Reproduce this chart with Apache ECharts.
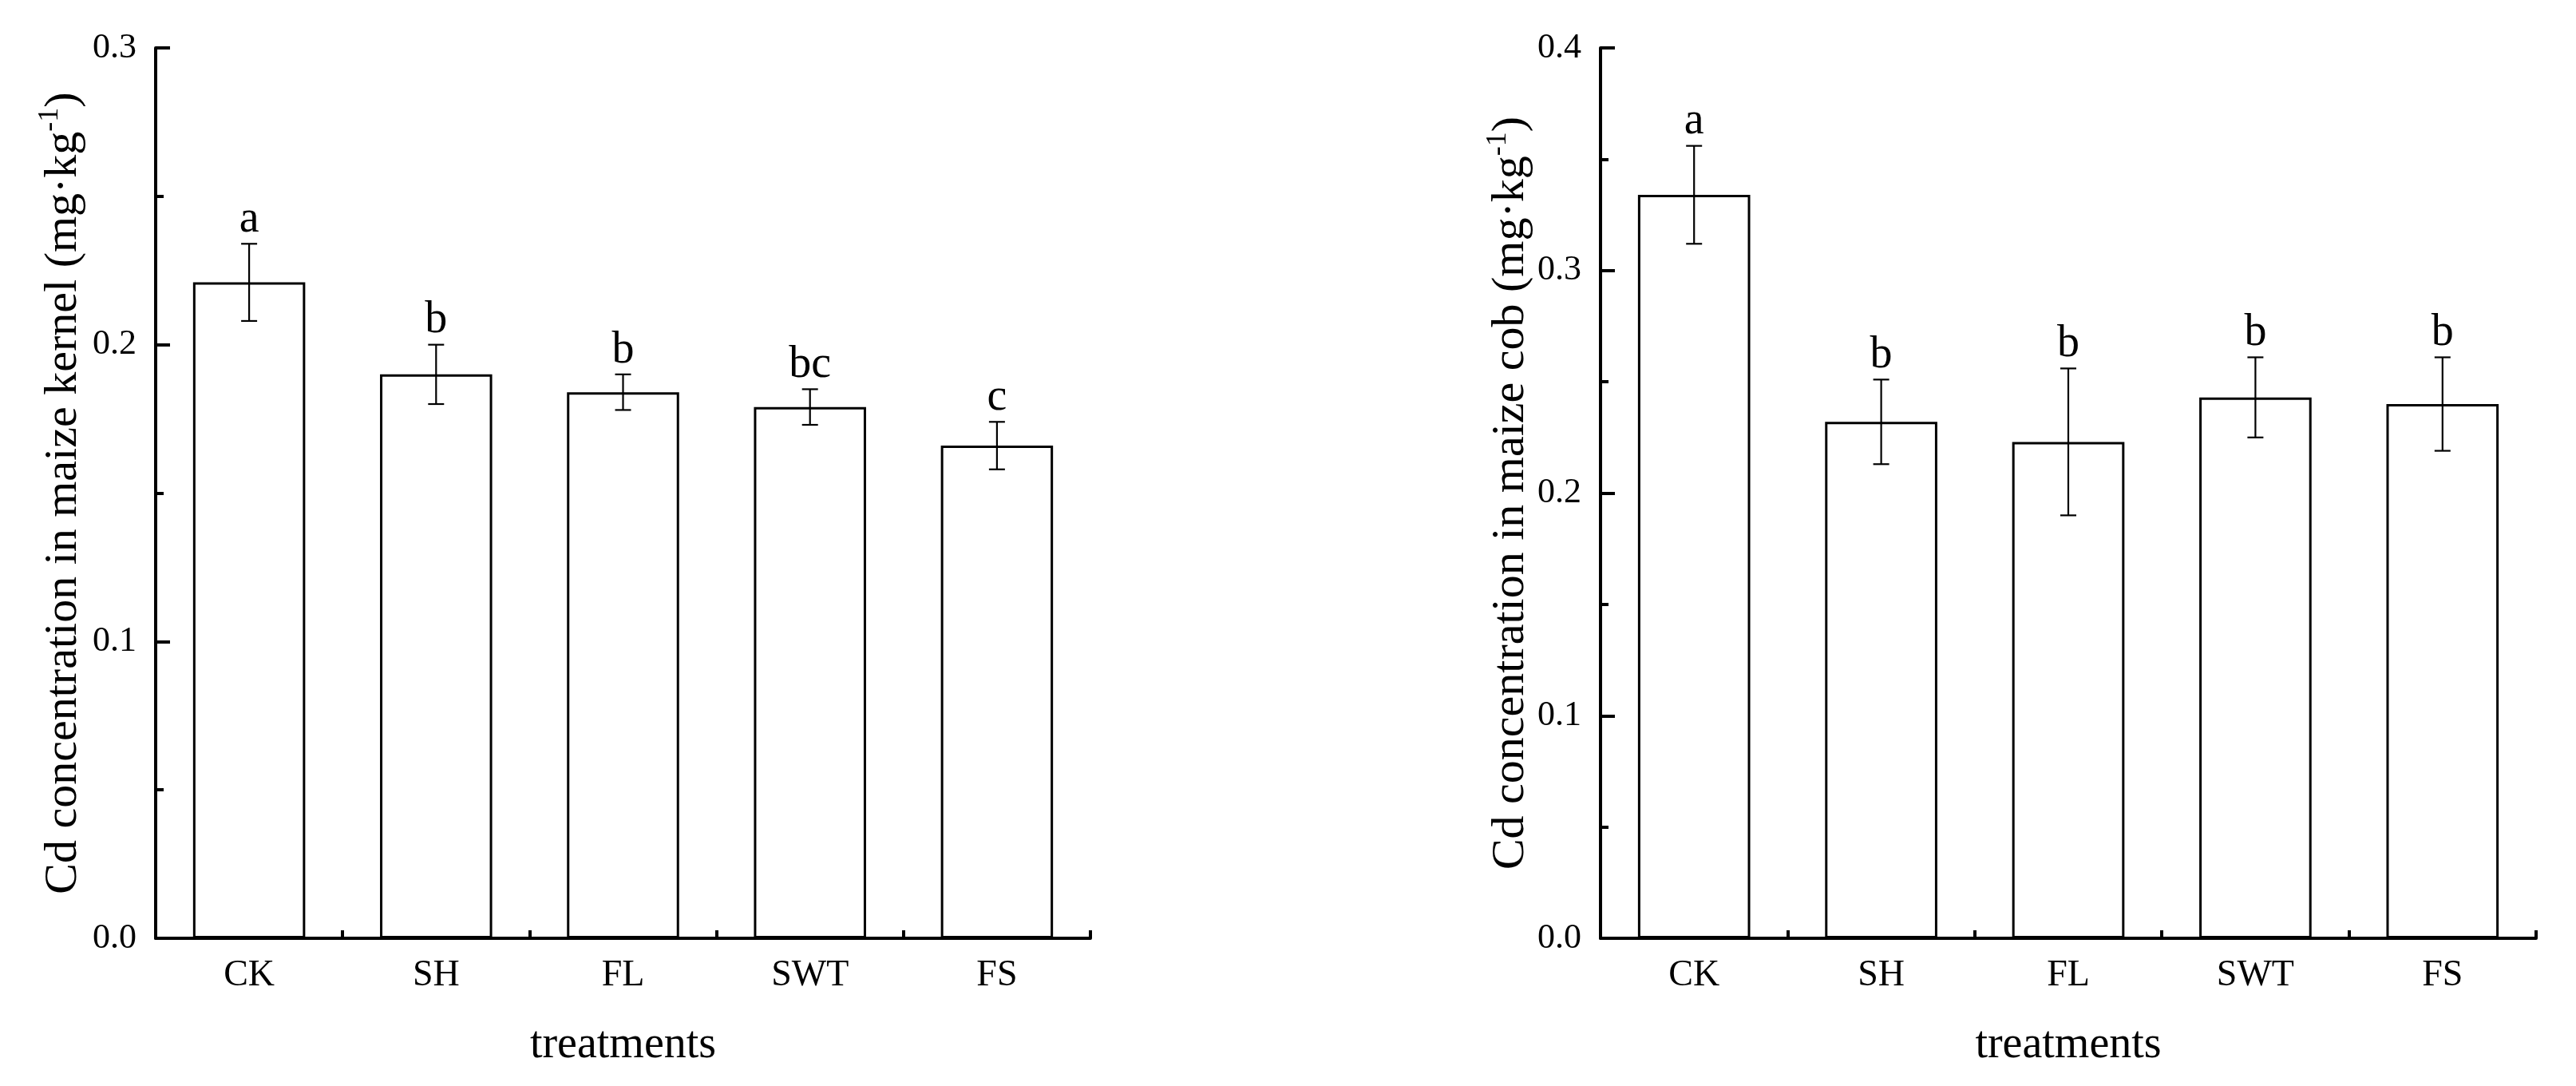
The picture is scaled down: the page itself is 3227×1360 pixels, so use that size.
<!DOCTYPE html>
<html>
<head>
<meta charset="utf-8">
<script src="https://cdn.jsdelivr.net/npm/echarts@6/dist/echarts.min.js"></script>
<style>
html,body{margin:0;padding:0;background:#fff;}
#chart{width:3227px;height:1360px;}
</style>
</head>
<body>
<div id="chart"></div>
<script>
// ---- data ----
const categories = ['CK', 'SH', 'FL', 'SWT', 'FS'];
const kernelMean = [0.221, 0.190, 0.184, 0.179, 0.166];
const kernelErr = [0.013, 0.010, 0.006, 0.006, 0.008];
const kernelLetters = ['a', 'b', 'b', 'bc', 'c'];
const cobMean = [0.334, 0.232, 0.223, 0.243, 0.240];
const cobErr = [0.022, 0.019, 0.033, 0.018, 0.021];
const cobLetters = ['a', 'b', 'b', 'b', 'b'];
const kernelTicks = [0, 0.3, 0.1];   // min, max, interval
const cobTicks = [0, 0.4, 0.1];
const xTitle = 'treatments';
const kernelTitle = 'Cd concentration in maize kernel (mg·kg';
const cobTitle = 'Cd concentration in maize cob (mg·kg';

// ---- style ----
const FONT = 'Liberation Serif';
const BLACK = '#000';

function errSeries(gridIdx, means, errs, letters) {
  return {
    type: 'custom',
    xAxisIndex: gridIdx * 2,
    yAxisIndex: gridIdx,
    data: means.map((m, i) => [i, m, errs[i]]),
    z: 10,
    renderItem: function (params, api) {
      const i = api.value(0);
      const m = api.value(1);
      const e = api.value(2);
      const cx = api.coord([i, m])[0];
      const yt = api.coord([i, m + e])[1];
      const yb = api.coord([i, m - e])[1];
      const st = { stroke: BLACK, lineWidth: 2.2 };
      return {
        type: 'group',
        children: [
          { type: 'line', shape: { x1: cx, y1: yt, x2: cx, y2: yb }, style: st },
          { type: 'line', shape: { x1: cx - 10, y1: yt, x2: cx + 10, y2: yt }, style: st },
          { type: 'line', shape: { x1: cx - 10, y1: yb, x2: cx + 10, y2: yb }, style: st },
          {
            type: 'text', x: cx, y: yt - 2,
            style: {
              text: letters[params.dataIndex], fill: BLACK,
              fontFamily: FONT, fontSize: 56,
              align: 'center', verticalAlign: 'bottom'
            }
          }
        ]
      };
    }
  };
}

function makeYAxis(gridIdx, ticks, title, gap) {
  return {
    type: 'value', gridIndex: gridIdx,
    min: ticks[0], max: ticks[1], interval: ticks[2],
    axisLine: { show: true, lineStyle: { color: BLACK, width: 4 } },
    axisTick: { show: true, inside: true, length: 18, lineStyle: { color: BLACK, width: 4 } },
    minorTick: { show: true, splitNumber: 2, length: 10, lineStyle: { color: BLACK, width: 4 } },
    splitLine: { show: false },
    axisLabel: {
      color: BLACK, fontFamily: FONT, fontSize: 44, margin: 24,
      formatter: v => v.toFixed(1)
    },
    name: '{n|' + title + '}{s|-1}{n|)}',
    nameLocation: 'middle', nameRotate: 90, nameGap: gap,
    nameTextStyle: {
      fontFamily: FONT, color: BLACK,
      rich: {
        n: { fontFamily: FONT, fontSize: 58, color: BLACK, lineHeight: 64, verticalAlign: 'bottom' },
        s: { fontFamily: FONT, fontSize: 36, color: BLACK, lineHeight: 64, verticalAlign: 'top' }
      }
    }
  };
}

function makeXAxes(gridIdx) {
  return [{
    type: 'category', gridIndex: gridIdx, data: categories, position: 'bottom',
    axisLine: { show: true, onZero: false, lineStyle: { color: BLACK, width: 4 } },
    axisTick: { show: true, inside: true, alignWithLabel: true, length: 21, lineStyle: { color: BLACK, width: 4 } },
    axisLabel: { color: BLACK, fontFamily: FONT, fontSize: 46, margin: 24 },
    name: xTitle, nameLocation: 'middle', nameGap: 106,
    nameTextStyle: { color: BLACK, fontFamily: FONT, fontSize: 56 }
  }, {
    type: 'category', gridIndex: gridIdx, data: categories, position: 'bottom',
    axisLine: { show: false, onZero: false },
    axisTick: { show: true, inside: true, length: 10, lineStyle: { color: BLACK, width: 4 } },
    axisLabel: { show: false }
  }];
}

function barSeries(gridIdx, means) {
  return {
    type: 'bar', xAxisIndex: gridIdx * 2, yAxisIndex: gridIdx,
    data: means, barWidth: '60%',
    itemStyle: { color: '#fff', borderColor: BLACK, borderWidth: 3 },
    silent: true
  };
}

const chart = echarts.init(document.getElementById('chart'), null, { renderer: 'canvas' });
chart.setOption({
  backgroundColor: '#fff',
  animation: false,
  textStyle: { fontFamily: FONT, color: BLACK },
  grid: [
    { left: 195, top: 60, width: 1171, height: 1115 },
    { left: 2005, top: 60, width: 1172, height: 1115 }
  ],
  xAxis: makeXAxes(0).concat(makeXAxes(1)),
  yAxis: [makeYAxis(0, kernelTicks, kernelTitle, 86), makeYAxis(1, cobTicks, cobTitle, 76)],
  series: [
    barSeries(0, kernelMean),
    errSeries(0, kernelMean, kernelErr, kernelLetters),
    barSeries(1, cobMean),
    errSeries(1, cobMean, cobErr, cobLetters)
  ]
});
</script>
</body>
</html>
